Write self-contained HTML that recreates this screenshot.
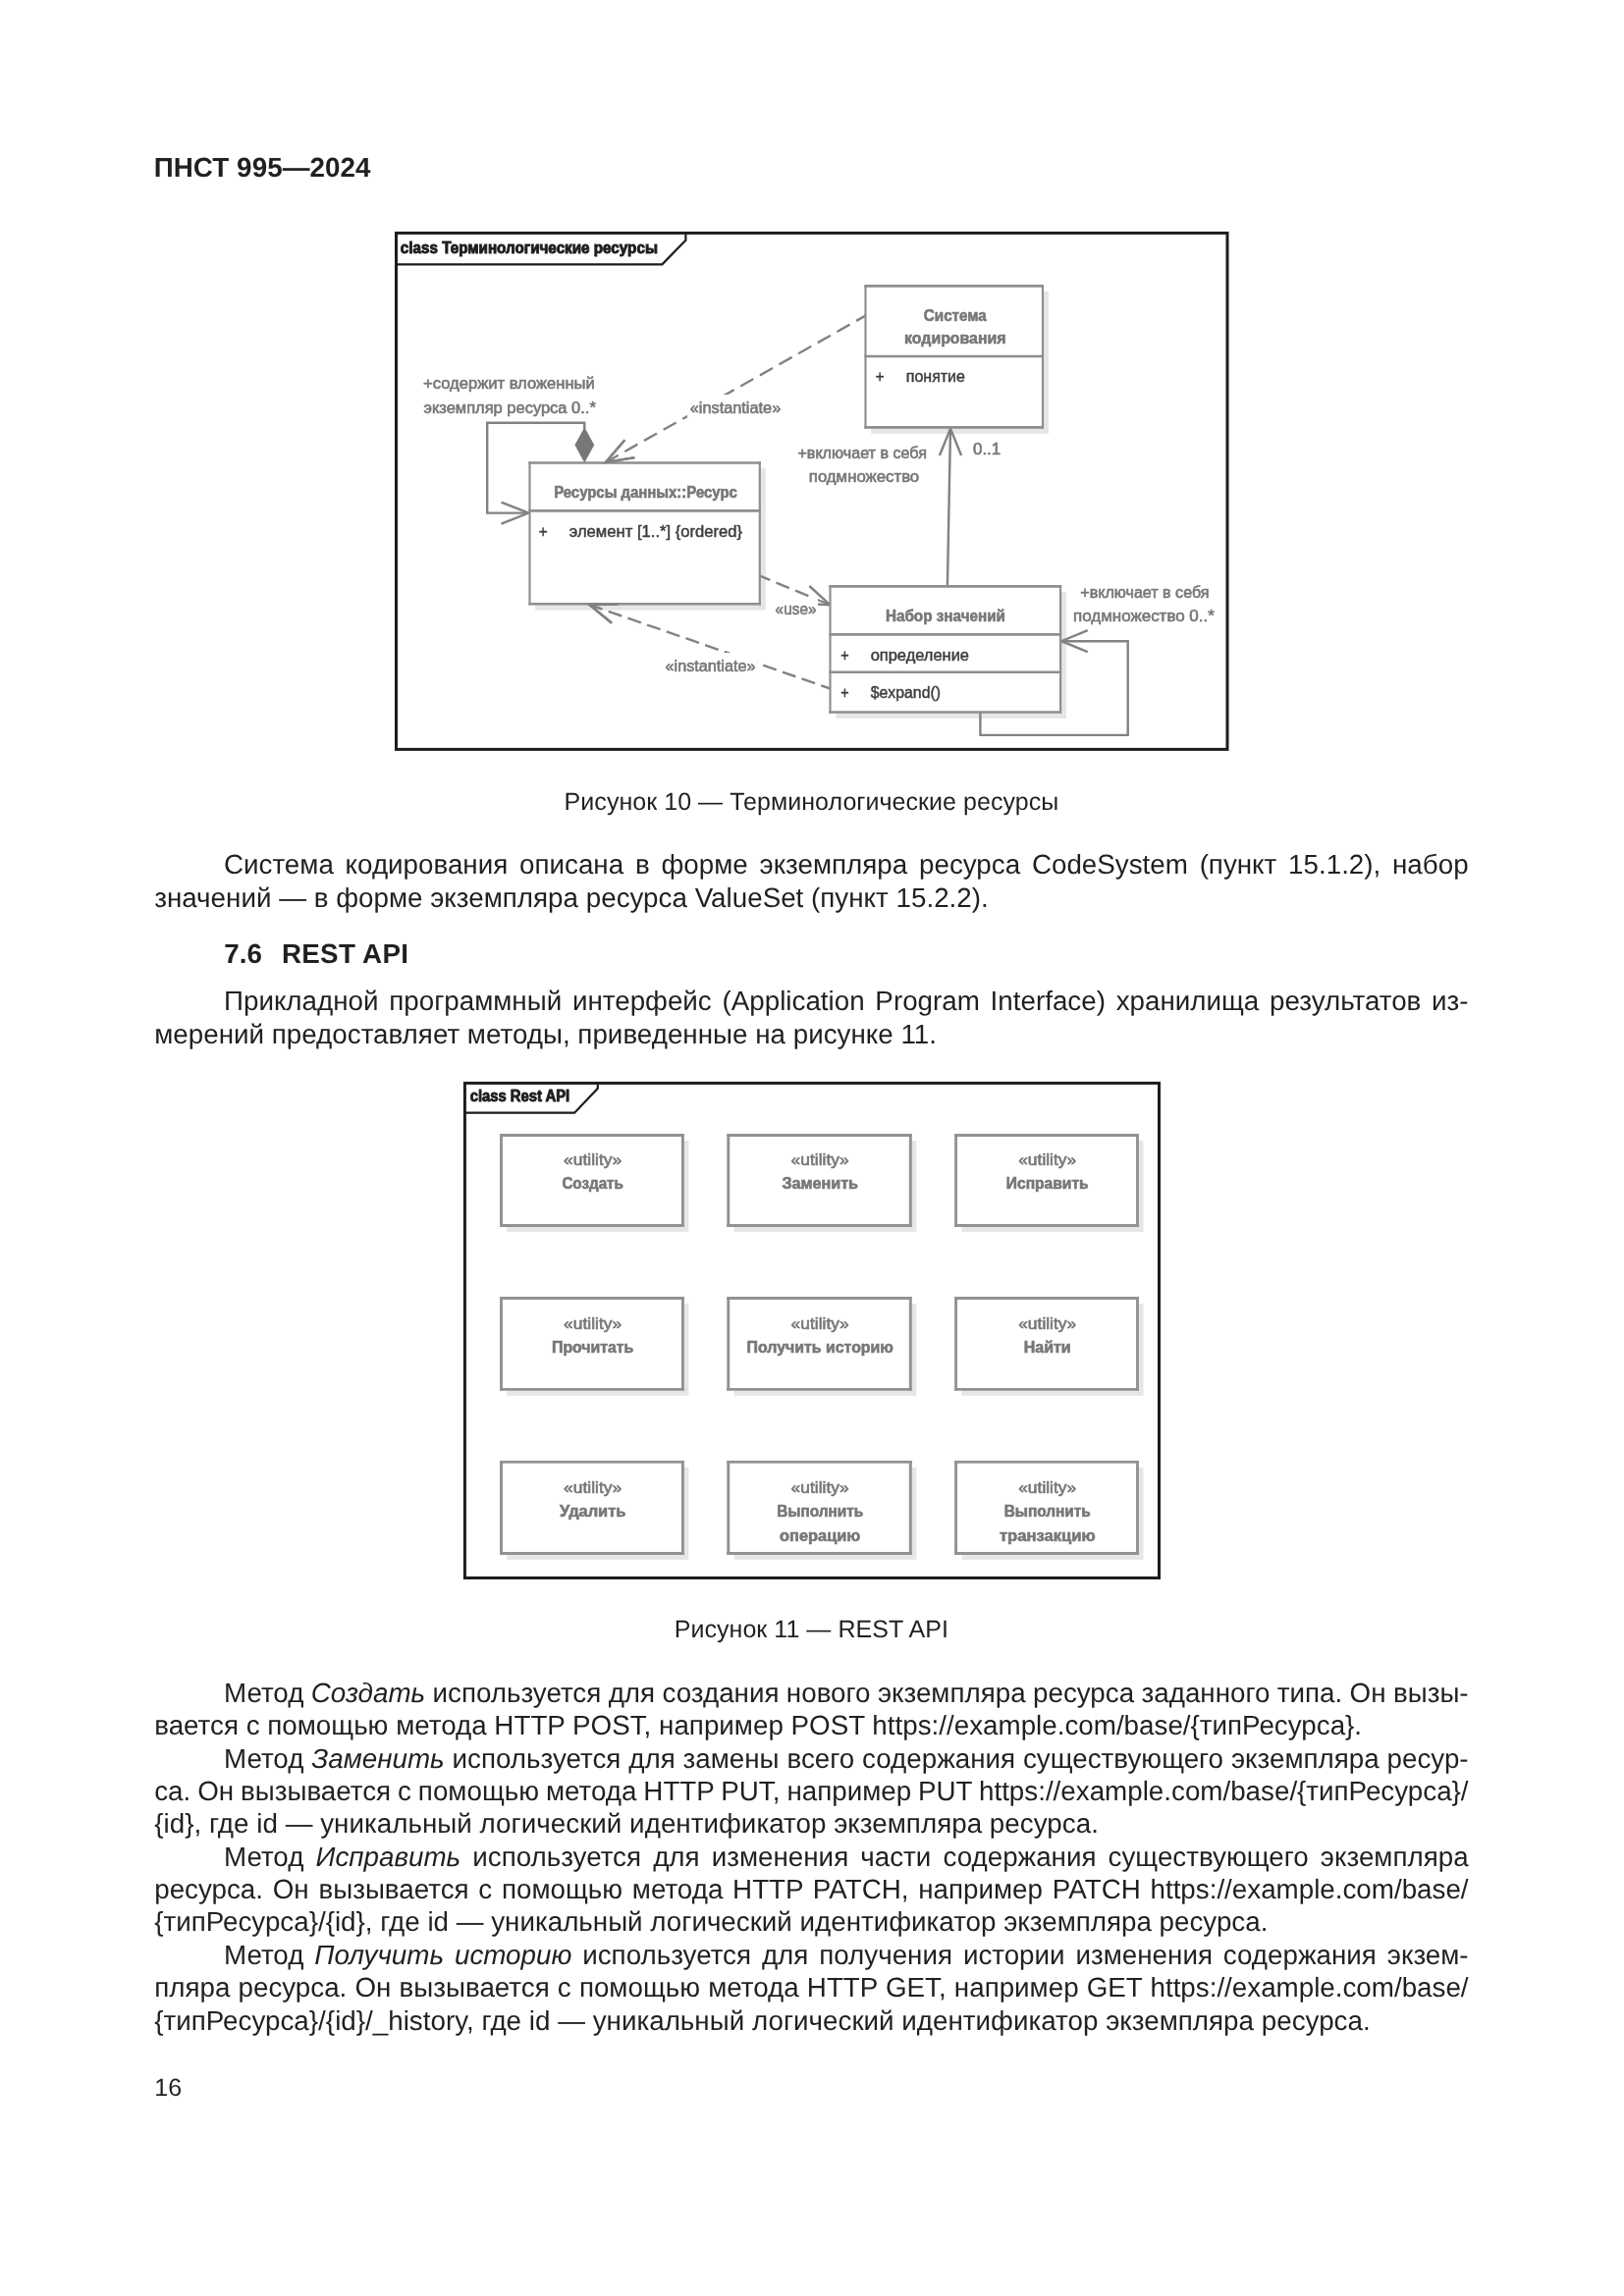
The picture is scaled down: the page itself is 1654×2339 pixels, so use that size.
<!DOCTYPE html>
<html lang="ru"><head><meta charset="utf-8"><title>ПНСТ 995—2024</title>
<style>
html,body{margin:0;padding:0;background:#fff}
html{filter:grayscale(1)}
body{width:1654px;height:2339px;position:relative;overflow:hidden;font-family:"Liberation Sans",sans-serif;color:#231f20}
.t{position:absolute;white-space:pre;text-rendering:geometricPrecision;font-size:27.78px;line-height:31px}
.t.c{font-size:25px;line-height:28px}
svg{position:absolute;left:0;top:0}
svg text{font-family:"Liberation Sans",sans-serif}
</style></head><body>
<svg width="1654" height="2339" viewBox="0 0 1654 2339">
<g>
<rect x="403.5" y="237.4" width="846.5" height="526.0" fill="none" stroke="#1d1d1d" stroke-width="3"/>
<polyline points="403.5,269.3 674.4,269.3 698.4,244.7 698.4,237.4" fill="none" stroke="#1d1d1d" stroke-width="2.2"/>
<text x="407.8" y="257.5" font-size="15.8" fill="#1d1d1d" stroke="#1d1d1d" stroke-width="0.9" font-weight="bold" textLength="262.1" lengthAdjust="spacingAndGlyphs">class Терминологические ресурсы</text>
<rect x="887.3" y="297.0" width="180.7" height="144.8" fill="#e6e6e6"/>
<rect x="545.3" y="477.1" width="234.5" height="144.5" fill="#e6e6e6"/>
<rect x="851.3" y="603.0" width="234.8" height="128.9" fill="#e6e6e6"/>
<polyline points="881.5,321.6 616.8,471.0" fill="none" stroke="#828282" stroke-width="2.4" stroke-dasharray="15 7.56" stroke-dashoffset="4.2"/>
<polyline points="636.3,448.2 616.8,471.0 646.4,466.1" fill="none" stroke="#828282" stroke-width="2.4"/>
<polyline points="964.9,597.4 968.0,437.0" fill="none" stroke="#828282" stroke-width="2.4"/>
<polyline points="979.1,464.0 968.0,436.6 956.9,464.0" fill="none" stroke="#828282" stroke-width="2.4"/>
<polyline points="773.8,586.6 845.3,616.2" fill="none" stroke="#828282" stroke-width="2.4" stroke-dasharray="14.4 6.8" stroke-dashoffset="3.1"/>
<polyline points="816.9,615.0 845.3,616.2 824.4,597.0" fill="none" stroke="#828282" stroke-width="2.4"/>
<polyline points="845.5,701.5 600.2,616.0" fill="none" stroke="#828282" stroke-width="2.4" stroke-dasharray="14.3 6.55" stroke-dashoffset="4.5"/>
<polyline points="629.7,615.6 600.2,616.0 623.1,634.7" fill="none" stroke="#828282" stroke-width="2.4"/>
<polyline points="595.3,437.0 595.3,430.7 496.2,430.7 496.2,522.6 538.4,522.6" fill="none" stroke="#828282" stroke-width="2.4"/>
<polyline points="510.5,533.6 538.4,522.6 510.5,511.6" fill="none" stroke="#828282" stroke-width="2.4"/>
<polyline points="998.4,725.5 998.4,748.9 1148.7,748.9 1148.7,653.2 1081.0,653.2" fill="none" stroke="#828282" stroke-width="2.4"/>
<polyline points="1107.8,642.2 1081.0,653.2 1107.8,664.2" fill="none" stroke="#828282" stroke-width="2.4"/>
<rect x="700.0" y="402.0" width="97.0" height="23.0" fill="#fff"/>
<rect x="788.0" y="608.5" width="45.0" height="20.5" fill="#fff"/>
<rect x="675.5" y="665.0" width="95.5" height="24.0" fill="#fff"/>
<rect x="881.5" y="291.4" width="180.5" height="144.0" fill="#fff"/>
<path d="M880.42,291.40H1063.08M880.42,435.40H1063.08M880.42,363.00H1063.08" fill="none" stroke="#8e8e8e" stroke-width="2.65"/>
<path d="M881.50,290.07V436.72M1062.00,290.07V436.72" fill="none" stroke="#8e8e8e" stroke-width="2.15"/>
<rect x="539.5" y="471.5" width="234.3" height="143.7" fill="#fff"/>
<path d="M538.42,471.50H774.88M538.42,615.20H774.88M538.42,520.40H774.88" fill="none" stroke="#8e8e8e" stroke-width="2.65"/>
<path d="M539.50,470.18V616.53M773.80,470.18V616.53" fill="none" stroke="#8e8e8e" stroke-width="2.15"/>
<rect x="845.5" y="597.4" width="234.6" height="128.1" fill="#fff"/>
<path d="M844.42,597.40H1081.17M844.42,725.50H1081.17M844.42,646.40H1081.17M844.42,684.70H1081.17" fill="none" stroke="#8e8e8e" stroke-width="2.65"/>
<path d="M845.50,596.07V726.83M1080.10,596.07V726.83" fill="none" stroke="#8e8e8e" stroke-width="2.15"/>
<polyline points="629.7,615.6 600.2,616.0 623.1,634.7" fill="none" stroke="#828282" stroke-width="2.4"/>
<polyline points="636.3,448.2 616.8,471.0 646.4,466.1" fill="none" stroke="#828282" stroke-width="2.4"/>
<polygon points="595.3,435.3 605.2,453.3 595.3,471.5 585.4,453.3" fill="#777777"/>
<text x="431.0" y="396.0" font-size="15.8" fill="#777777" stroke="#777777" stroke-width="0.6" textLength="174.8" lengthAdjust="spacingAndGlyphs">+содержит вложенный</text>
<text x="431.5" y="420.5" font-size="15.8" fill="#777777" stroke="#777777" stroke-width="0.6" textLength="175.3" lengthAdjust="spacingAndGlyphs">экземпляр ресурса 0..*</text>
<text x="702.7" y="420.7" font-size="15.8" fill="#777777" stroke="#777777" stroke-width="0.6" textLength="92.6" lengthAdjust="spacingAndGlyphs">«instantiate»</text>
<text x="812.4" y="467.0" font-size="15.8" fill="#777777" stroke="#777777" stroke-width="0.6" textLength="131.6" lengthAdjust="spacingAndGlyphs">+включает в себя</text>
<text x="823.8" y="490.5" font-size="15.8" fill="#777777" stroke="#777777" stroke-width="0.6" textLength="112.4" lengthAdjust="spacingAndGlyphs">подмножество</text>
<text x="991.0" y="463.1" font-size="15.8" fill="#777777" stroke="#777777" stroke-width="0.6" textLength="28.2" lengthAdjust="spacingAndGlyphs">0..1</text>
<text x="789.6" y="626.3" font-size="15.8" fill="#777777" stroke="#777777" stroke-width="0.6" textLength="41.9" lengthAdjust="spacingAndGlyphs">«use»</text>
<text x="677.6" y="684.2" font-size="15.8" fill="#777777" stroke="#777777" stroke-width="0.6" textLength="91.9" lengthAdjust="spacingAndGlyphs">«instantiate»</text>
<text x="1100.3" y="609.3" font-size="15.8" fill="#777777" stroke="#777777" stroke-width="0.6" textLength="131.2" lengthAdjust="spacingAndGlyphs">+включает в себя</text>
<text x="1093.0" y="633.3" font-size="15.8" fill="#777777" stroke="#777777" stroke-width="0.6" textLength="143.8" lengthAdjust="spacingAndGlyphs">подмножество 0..*</text>
<text x="940.8" y="326.5" font-size="15.8" fill="#777777" stroke="#777777" stroke-width="0.6" font-weight="bold" textLength="64.0" lengthAdjust="spacingAndGlyphs">Система</text>
<text x="921.1" y="349.8" font-size="15.8" fill="#777777" stroke="#777777" stroke-width="0.6" font-weight="bold" textLength="103.4" lengthAdjust="spacingAndGlyphs">кодирования</text>
<text x="564.2" y="507.4" font-size="15.8" fill="#777777" stroke="#777777" stroke-width="0.6" font-weight="bold" textLength="186.6" lengthAdjust="spacingAndGlyphs">Ресурсы данных::Ресурс</text>
<text x="901.9" y="633.3" font-size="15.8" fill="#777777" stroke="#777777" stroke-width="0.6" font-weight="bold" textLength="122.1" lengthAdjust="spacingAndGlyphs">Набор значений</text>
<text x="891.8" y="389.2" font-size="15.8" fill="#3d3d3d" stroke="#3d3d3d" stroke-width="0.45" textLength="8.9" lengthAdjust="spacingAndGlyphs">+</text>
<text x="922.8" y="389.2" font-size="15.8" fill="#3d3d3d" stroke="#3d3d3d" stroke-width="0.45" textLength="60.1" lengthAdjust="spacingAndGlyphs">понятие</text>
<text x="548.8" y="546.8" font-size="15.8" fill="#3d3d3d" stroke="#3d3d3d" stroke-width="0.45" textLength="8.9" lengthAdjust="spacingAndGlyphs">+</text>
<text x="579.8" y="546.8" font-size="15.8" fill="#3d3d3d" stroke="#3d3d3d" stroke-width="0.45" textLength="176.3" lengthAdjust="spacingAndGlyphs">элемент [1..*] {ordered}</text>
<text x="856.2" y="672.7" font-size="15.8" fill="#3d3d3d" stroke="#3d3d3d" stroke-width="0.45" textLength="8.4" lengthAdjust="spacingAndGlyphs">+</text>
<text x="886.7" y="672.7" font-size="15.8" fill="#3d3d3d" stroke="#3d3d3d" stroke-width="0.45" textLength="100.3" lengthAdjust="spacingAndGlyphs">определение</text>
<text x="856.2" y="710.7" font-size="15.8" fill="#3d3d3d" stroke="#3d3d3d" stroke-width="0.45" textLength="8.4" lengthAdjust="spacingAndGlyphs">+</text>
<text x="886.7" y="710.7" font-size="15.8" fill="#3d3d3d" stroke="#3d3d3d" stroke-width="0.45" textLength="71.3" lengthAdjust="spacingAndGlyphs">$expand()</text>
</g>
<g>
<rect x="473.4" y="1103.4" width="707.1" height="504.1" fill="none" stroke="#1d1d1d" stroke-width="3"/>
<polyline points="473.4,1133.7 585.1,1133.7 608.8,1108.7 608.8,1103.4" fill="none" stroke="#1d1d1d" stroke-width="2.2"/>
<text x="478.7" y="1121.5" font-size="15.8" fill="#1d1d1d" stroke="#1d1d1d" stroke-width="0.9" font-weight="bold" textLength="101.5" lengthAdjust="spacingAndGlyphs">class Rest API</text>
<rect x="516.3" y="1162.1" width="185.1" height="92.8" fill="#e6e6e6"/>
<rect x="510.5" y="1156.5" width="184.9" height="92.0" fill="#fff"/>
<path d="M509.05,1156.50H696.85M509.05,1248.50H696.85" fill="none" stroke="#929292" stroke-width="2.8"/>
<path d="M510.50,1155.10V1249.90M695.40,1155.10V1249.90" fill="none" stroke="#929292" stroke-width="2.9"/>
<text x="574.1" y="1186.6" font-size="15.8" fill="#777777" stroke="#777777" stroke-width="0.6" textLength="59.0" lengthAdjust="spacingAndGlyphs">«utility»</text>
<text x="572.4" y="1210.6" font-size="15.8" fill="#777777" stroke="#777777" stroke-width="0.6" font-weight="bold" textLength="62.5" lengthAdjust="spacingAndGlyphs">Создать</text>
<rect x="747.6" y="1162.1" width="185.7" height="92.8" fill="#e6e6e6"/>
<rect x="741.8" y="1156.5" width="185.5" height="92.0" fill="#fff"/>
<path d="M740.35,1156.50H928.75M740.35,1248.50H928.75" fill="none" stroke="#929292" stroke-width="2.8"/>
<path d="M741.80,1155.10V1249.90M927.30,1155.10V1249.90" fill="none" stroke="#929292" stroke-width="2.9"/>
<text x="805.6" y="1186.6" font-size="15.8" fill="#777777" stroke="#777777" stroke-width="0.6" textLength="59.0" lengthAdjust="spacingAndGlyphs">«utility»</text>
<text x="796.5" y="1210.6" font-size="15.8" fill="#777777" stroke="#777777" stroke-width="0.6" font-weight="bold" textLength="77.5" lengthAdjust="spacingAndGlyphs">Заменить</text>
<rect x="979.4" y="1162.1" width="185.1" height="92.8" fill="#e6e6e6"/>
<rect x="973.6" y="1156.5" width="184.9" height="92.0" fill="#fff"/>
<path d="M972.15,1156.50H1159.95M972.15,1248.50H1159.95" fill="none" stroke="#929292" stroke-width="2.8"/>
<path d="M973.60,1155.10V1249.90M1158.50,1155.10V1249.90" fill="none" stroke="#929292" stroke-width="2.9"/>
<text x="1037.2" y="1186.6" font-size="15.8" fill="#777777" stroke="#777777" stroke-width="0.6" textLength="59.0" lengthAdjust="spacingAndGlyphs">«utility»</text>
<text x="1024.8" y="1210.6" font-size="15.8" fill="#777777" stroke="#777777" stroke-width="0.6" font-weight="bold" textLength="83.8" lengthAdjust="spacingAndGlyphs">Исправить</text>
<rect x="516.3" y="1328.1" width="185.1" height="93.7" fill="#e6e6e6"/>
<rect x="510.5" y="1322.5" width="184.9" height="92.9" fill="#fff"/>
<path d="M509.05,1322.50H696.85M509.05,1415.40H696.85" fill="none" stroke="#929292" stroke-width="2.8"/>
<path d="M510.50,1321.10V1416.80M695.40,1321.10V1416.80" fill="none" stroke="#929292" stroke-width="2.9"/>
<text x="574.1" y="1353.6" font-size="15.8" fill="#777777" stroke="#777777" stroke-width="0.6" textLength="59.0" lengthAdjust="spacingAndGlyphs">«utility»</text>
<text x="562.0" y="1377.6" font-size="15.8" fill="#777777" stroke="#777777" stroke-width="0.6" font-weight="bold" textLength="83.3" lengthAdjust="spacingAndGlyphs">Прочитать</text>
<rect x="747.6" y="1328.1" width="185.7" height="93.7" fill="#e6e6e6"/>
<rect x="741.8" y="1322.5" width="185.5" height="92.9" fill="#fff"/>
<path d="M740.35,1322.50H928.75M740.35,1415.40H928.75" fill="none" stroke="#929292" stroke-width="2.8"/>
<path d="M741.80,1321.10V1416.80M927.30,1321.10V1416.80" fill="none" stroke="#929292" stroke-width="2.9"/>
<text x="805.6" y="1353.6" font-size="15.8" fill="#777777" stroke="#777777" stroke-width="0.6" textLength="59.0" lengthAdjust="spacingAndGlyphs">«utility»</text>
<text x="760.5" y="1377.6" font-size="15.8" fill="#777777" stroke="#777777" stroke-width="0.6" font-weight="bold" textLength="149.4" lengthAdjust="spacingAndGlyphs">Получить историю</text>
<rect x="979.4" y="1328.1" width="185.1" height="93.7" fill="#e6e6e6"/>
<rect x="973.6" y="1322.5" width="184.9" height="92.9" fill="#fff"/>
<path d="M972.15,1322.50H1159.95M972.15,1415.40H1159.95" fill="none" stroke="#929292" stroke-width="2.8"/>
<path d="M973.60,1321.10V1416.80M1158.50,1321.10V1416.80" fill="none" stroke="#929292" stroke-width="2.9"/>
<text x="1037.2" y="1353.6" font-size="15.8" fill="#777777" stroke="#777777" stroke-width="0.6" textLength="59.0" lengthAdjust="spacingAndGlyphs">«utility»</text>
<text x="1042.8" y="1377.6" font-size="15.8" fill="#777777" stroke="#777777" stroke-width="0.6" font-weight="bold" textLength="47.9" lengthAdjust="spacingAndGlyphs">Найти</text>
<rect x="516.3" y="1494.9" width="185.1" height="94.0" fill="#e6e6e6"/>
<rect x="510.5" y="1489.3" width="184.9" height="93.2" fill="#fff"/>
<path d="M509.05,1489.30H696.85M509.05,1582.50H696.85" fill="none" stroke="#929292" stroke-width="2.8"/>
<path d="M510.50,1487.90V1583.90M695.40,1487.90V1583.90" fill="none" stroke="#929292" stroke-width="2.9"/>
<text x="574.1" y="1520.8" font-size="15.8" fill="#777777" stroke="#777777" stroke-width="0.6" textLength="59.0" lengthAdjust="spacingAndGlyphs">«utility»</text>
<text x="570.0" y="1545.0" font-size="15.8" fill="#777777" stroke="#777777" stroke-width="0.6" font-weight="bold" textLength="67.3" lengthAdjust="spacingAndGlyphs">Удалить</text>
<rect x="747.6" y="1494.9" width="185.7" height="94.0" fill="#e6e6e6"/>
<rect x="741.8" y="1489.3" width="185.5" height="93.2" fill="#fff"/>
<path d="M740.35,1489.30H928.75M740.35,1582.50H928.75" fill="none" stroke="#929292" stroke-width="2.8"/>
<path d="M741.80,1487.90V1583.90M927.30,1487.90V1583.90" fill="none" stroke="#929292" stroke-width="2.9"/>
<text x="805.6" y="1520.8" font-size="15.8" fill="#777777" stroke="#777777" stroke-width="0.6" textLength="59.0" lengthAdjust="spacingAndGlyphs">«utility»</text>
<text x="791.2" y="1545.0" font-size="15.8" fill="#777777" stroke="#777777" stroke-width="0.6" font-weight="bold" textLength="88.1" lengthAdjust="spacingAndGlyphs">Выполнить</text>
<text x="794.1" y="1569.6" font-size="15.8" fill="#777777" stroke="#777777" stroke-width="0.6" font-weight="bold" textLength="82.2" lengthAdjust="spacingAndGlyphs">операцию</text>
<rect x="979.4" y="1494.9" width="185.1" height="94.0" fill="#e6e6e6"/>
<rect x="973.6" y="1489.3" width="184.9" height="93.2" fill="#fff"/>
<path d="M972.15,1489.30H1159.95M972.15,1582.50H1159.95" fill="none" stroke="#929292" stroke-width="2.8"/>
<path d="M973.60,1487.90V1583.90M1158.50,1487.90V1583.90" fill="none" stroke="#929292" stroke-width="2.9"/>
<text x="1037.2" y="1520.8" font-size="15.8" fill="#777777" stroke="#777777" stroke-width="0.6" textLength="59.0" lengthAdjust="spacingAndGlyphs">«utility»</text>
<text x="1022.7" y="1545.0" font-size="15.8" fill="#777777" stroke="#777777" stroke-width="0.6" font-weight="bold" textLength="88.1" lengthAdjust="spacingAndGlyphs">Выполнить</text>
<text x="1018.0" y="1569.6" font-size="15.8" fill="#777777" stroke="#777777" stroke-width="0.6" font-weight="bold" textLength="97.6" lengthAdjust="spacingAndGlyphs">транзакцию</text>
</g>
</svg>
<div class="t" style="left:156.70px;top:155px;font-weight:bold;letter-spacing:0.0764px">ПНСТ 995—2024</div>
<div class="t c" style="left:574.60px;top:803px;letter-spacing:0.0484px">Рисунок 10 — Терминологические ресурсы</div>
<div class="t" style="left:228.00px;top:865px;word-spacing:4.071px">Система кодирования описана в форме экземпляра ресурса CodeSystem (пункт 15.1.2), набор</div>
<div class="t" style="left:157.20px;top:899px;letter-spacing:0.0104px">значений — в форме экземпляра ресурса ValueSet (пункт 15.2.2).</div>
<div class="t" style="left:228.30px;top:956px;font-weight:bold">7.6</div>
<div class="t" style="left:287.00px;top:956px;font-weight:bold;letter-spacing:0.2711px">REST API</div>
<div class="t" style="left:228.00px;top:1004px;word-spacing:3.055px">Прикладной программный интерфейс (Application Program Interface) хранилища результатов из-</div>
<div class="t" style="left:157.20px;top:1038px;letter-spacing:0.0095px">мерений предоставляет методы, приведенные на рисунке 11.</div>
<div class="t c" style="left:686.70px;top:1646px;letter-spacing:0.0490px">Рисунок 11 — REST API</div>
<div class="t" style="left:228.00px;top:1709px;word-spacing:-0.315px">Метод <i>Создать</i> используется для создания нового экземпляра ресурса заданного типа. Он вызы-</div>
<div class="t" style="left:157.20px;top:1742px;letter-spacing:0.0037px">вается с помощью метода HTTP POST, например POST https://example.com/base/{типРесурса}.</div>
<div class="t" style="left:228.00px;top:1776px;word-spacing:0.171px">Метод <i>Заменить</i> используется для замены всего содержания существующего экземпляра ресур-</div>
<div class="t" style="left:157.20px;top:1809px;word-spacing:-0.785px">са. Он вызывается с помощью метода HTTP PUT, например PUT https://example.com/base/{типРесурса}/</div>
<div class="t" style="left:157.20px;top:1842px;letter-spacing:0.0254px">{id}, где id — уникальный логический идентификатор экземпляра ресурса.</div>
<div class="t" style="left:228.00px;top:1876px;word-spacing:4.425px">Метод <i>Исправить</i> используется для изменения части содержания существующего экземпляра</div>
<div class="t" style="left:157.20px;top:1909px;word-spacing:2.038px">ресурса. Он вызывается с помощью метода HTTP PATCH, например PATCH https://example.com/base/</div>
<div class="t" style="left:157.20px;top:1942px;letter-spacing:-0.0025px">{типРесурса}/{id}, где id — уникальный логический идентификатор экземпляра ресурса.</div>
<div class="t" style="left:228.00px;top:1976px;word-spacing:3.199px">Метод <i>Получить историю</i> используется для получения истории изменения содержания экзем-</div>
<div class="t" style="left:157.20px;top:2009px;word-spacing:0.445px">пляра ресурса. Он вызывается с помощью метода HTTP GET, например GET https://example.com/base/</div>
<div class="t" style="left:157.20px;top:2043px;letter-spacing:0.0132px">{типРесурса}/{id}/_history, где id — уникальный логический идентификатор экземпляра ресурса.</div>
<div class="t c" style="left:157.30px;top:2113px">16</div>
</body></html>
